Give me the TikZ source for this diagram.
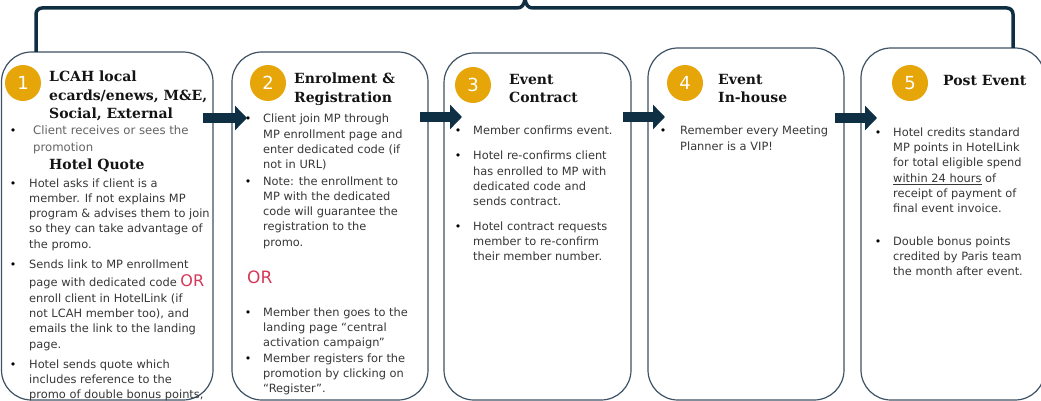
\documentclass[tikz,border=0pt]{standalone}
\usepackage{fontspec}
\usetikzlibrary{arrows.meta}
\newfontfamily\bodyf{DejaVu Sans}
\newfontfamily\headf{DejaVu Serif}
\definecolor{boxc}{RGB}{62,82,100}
\definecolor{gold}{RGB}{230,166,10}
\definecolor{arrc}{RGB}{14,47,68}
\definecolor{brc}{RGB}{16,46,66}
\definecolor{bodyc}{RGB}{55,55,55}
\definecolor{lightc}{RGB}{100,100,100}
\definecolor{headc}{RGB}{20,20,20}
\definecolor{orc}{RGB}{214,56,88}
\tikzset{
  box/.style={draw=boxc, line width=1.2pt, rounded corners=30pt, fill=white, anchor=north west, inner sep=0pt, outer sep=0pt},
  numc/.style={circle, fill=gold, minimum size=36pt, inner sep=0pt, text=white, font=\bodyf\fontsize{18}{18}\selectfont},
  head/.style={anchor=base west, inner sep=0pt, text=headc, font=\headf\bfseries\fontsize{14}{18.5}\selectfont},
  body/.style={anchor=base west, inner sep=0pt, text=bodyc, font=\bodyf\fontsize{11.4}{15.3}\selectfont},
  bul/.style={anchor=base, inner sep=0pt, text=black, font=\bodyf\fontsize{11}{11}\selectfont},
  ortext/.style={anchor=base west, inner sep=0pt, text=orc, font=\bodyf\fontsize{17}{17}\selectfont},
  flow/.style={draw=arrc, line width=10pt, -{Triangle[length=12pt,width=24pt]}},
  bracket/.style={draw=brc, line width=3.5pt, line join=round, line cap=butt}
}
\newcommand{\orw}{{\color{orc}\fontsize{16}{16}\selectfont OR}}
\newcommand{\tp}[1]{\parbox[t]{200pt}{\raggedright #1}}
\begin{document}
\begin{tikzpicture}[x=1pt,y=-1pt]
\useasboundingbox (0,0) rectangle (1041,401);
% boxes
\node[box, minimum width=211.5pt, minimum height=348pt] (b1) at (1.5,52) {};
\node[box, minimum width=196pt, minimum height=348pt] (b2) at (232,52) {};
\node[box, minimum width=187pt, minimum height=347pt] (b3) at (444,53) {};
\node[box, minimum width=196pt, minimum height=352pt] (b4) at (648,48) {};
\node[box, minimum width=184pt, minimum height=352pt] (b5) at (861,48) {};
% bracket
\coordinate (brL) at ([xshift=34.5pt]b1.north west);
\coordinate (brR) at ([xshift=152pt]b5.north west);
\draw[bracket, rounded corners=6pt] (brL) -- (brL |- 0,8) -- (517,8);
\draw[bracket] (517,8) .. controls (522,8) and (524,5) .. (525,-1) .. controls (526,5) and (528,8) .. (533,8);
\draw[bracket, rounded corners=6pt] (533,8) -- (brR |- 0,8) -- (brR);
% arrows
\draw[flow] ([shift={(-10,66)}]b1.north east) -- ([shift={(15,66)}]b2.north west);
\draw[flow] ([shift={(-8,65)}]b2.north east) -- ([shift={(18,64)}]b3.north west);
\draw[flow] ([shift={(-8,64)}]b3.north east) -- ([shift={(17,69)}]b4.north west);
\draw[flow] ([shift={(-9,70)}]b4.north east) -- ([shift={(16,70)}]b5.north west);
% numbers
\node[numc] (n1) at (23,83) {1};
\node[numc] (n2) at (268,83) {2};
\node[numc] (n3) at (473,85) {3};
\node[numc] (n4) at (685,83) {4};
\node[numc] (n5) at (910,83) {5};
% box 1
\node[head] (h1) at (49,82) {\tp{LCAH local\\ecards/enews, M\&E,\\Social, External}};
\node[bul] (u11) at (13,135) {•};
\node[body, text=lightc, font=\bodyf\fontsize{11.7}{17}\selectfont] (t11) at (33,135) {\tp{Client receives or sees the\\promotion}};
\node[head] (h1b) at (49,169) {Hotel Quote};
\node[bul] (u12) at (13,187) {•};
\node[body] (t12) at (29,187) {\tp{Hotel asks if client is a\\member. If not explains MP\\program \& advises them to join\\so they can take advantage of\\the promo.}};
\node[bul] (u13) at (13,268) {•};
\node[body] (t13) at (29,268) {\tp{Sends link to MP enrollment\\[3.5pt]page with dedicated code \orw\\enroll client in HotelLink (if\\not LCAH member too), and\\emails the link to the landing\\page.}};
\node[bul] (u14) at (13,368) {•};
\node[body] (t14) at (29,368) {\tp{Hotel sends quote which\\includes reference to the\\promo of double bonus points,}};
% box 2
\node[head, font=\headf\bfseries\fontsize{14}{19}\selectfont] (h2) at (294,84) {\tp{Enrolment \&\\Registration}};
\node[bul] (u21) at (248,123) {•};
\node[body] (t21) at (263,123) {\tp{Client join MP through\\MP enrollment page and\\enter dedicated code (if\\not in URL)}};
\node[bul] (u22) at (248,185) {•};
\node[body] (t22) at (263,185) {\tp{Note: the enrollment to\\MP with the dedicated\\code will guarantee the\\registration to the\\promo.}};
\node[ortext] (or2) at (247,283) {OR};
\node[bul] (u23) at (248,316) {•};
\node[body] (t23) at (263,316) {\tp{Member then goes to the\\landing page “central\\activation campaign”}};
\node[bul] (u24) at (248,362) {•};
\node[body] (t24) at (263,362) {\tp{Member registers for the\\promotion by clicking on\\“Register”.}};
% box 3
\node[head, font=\headf\bfseries\fontsize{14}{18}\selectfont] (h3) at (509,85) {\tp{Event\\Contract}};
\node[bul] (u31) at (458,135) {•};
\node[body] (t31) at (473,135) {Member confirms event.};
\node[bul] (u32) at (458,160) {•};
\node[body] (t32) at (473,160) {\tp{Hotel re-confirms client\\has enrolled to MP with\\dedicated code and\\sends contract.}};
\node[bul] (u33) at (458,230) {•};
\node[body] (t33) at (473,230) {\tp{Hotel contract requests\\member to re-confirm\\their member number.}};
% box 4
\node[head, font=\headf\bfseries\fontsize{14}{18}\selectfont] (h4) at (718,85) {\tp{Event\\In-house}};
\node[bul] (u41) at (663,135) {•};
\node[body, font=\bodyf\fontsize{11.4}{16}\selectfont] (t41) at (680,135) {\tp{Remember every Meeting\\Planner is a VIP!}};
% box 5
\node[head] (h5) at (943,86) {Post Event};
\node[bul] (u51) at (878,136) {•};
\node[body, font=\bodyf\fontsize{11.4}{15.4}\selectfont] (t51) at (893,136) {\tp{Hotel credits standard\\MP points in HotelLink\\for total eligible spend\\\underline{within 24 hours} of\\receipt of payment of\\final event invoice.}};
\node[bul] (u52) at (878,245) {•};
\node[body] (t52) at (893,245) {\tp{Double bonus points\\credited by Paris team\\the month after event.}};
\end{tikzpicture}
\end{document}
